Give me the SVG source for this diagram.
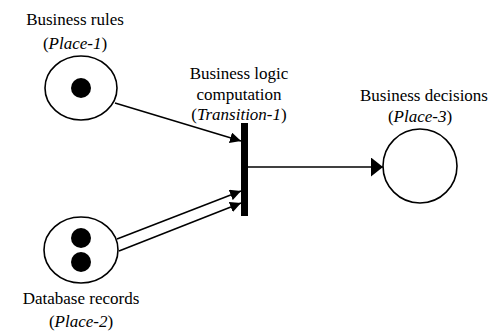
<svg xmlns="http://www.w3.org/2000/svg" width="493" height="333" viewBox="0 0 493 333">
<style>
text{font-family:'Liberation Serif','Times New Roman',serif;font-size:17px;fill:#000;text-anchor:middle}
.it{font-style:italic}
.place{fill:#fff;stroke:#000;stroke-width:1.6}
.tok{fill:#000}
.arc{stroke:#000;stroke-width:1.5;fill:none}
</style>
<defs>
<marker id="ah" markerUnits="userSpaceOnUse" markerWidth="12" markerHeight="11" refX="11" refY="5.5" orient="auto">
<path d="M0,0 L11,5.5 L0,11 z" fill="#000"/>
</marker>
<marker id="ahL" markerUnits="userSpaceOnUse" markerWidth="12" markerHeight="19" refX="12" refY="9.5" orient="auto">
<path d="M0,0 L12,9.5 L0,19 z" fill="#000"/>
</marker>
</defs>
<g id="connectors">
<line class="arc" x1="115" y1="103" x2="241" y2="141" marker-end="url(#ah)"/>
<line class="arc" x1="117" y1="239" x2="241" y2="191" marker-end="url(#ah)"/>
<line class="arc" x1="119" y1="251" x2="241" y2="203" marker-end="url(#ah)"/>
<line class="arc" x1="248" y1="167" x2="383" y2="167" marker-end="url(#ahL)"/>
</g>
<g id="place-1">
<ellipse class="place" cx="81" cy="88" rx="36" ry="32"/>
<circle class="tok" cx="81" cy="88" r="10"/>
<text x="75" y="25">Business rules</text>
<text x="75" y="49">(<tspan class="it">Place-1</tspan>)</text>
</g>
<g id="place-2">
<ellipse class="place" cx="81" cy="250" rx="37" ry="33"/>
<circle class="tok" cx="81" cy="238" r="10"/>
<circle class="tok" cx="81" cy="262" r="10"/>
<text x="81" y="304">Database records</text>
<text x="81" y="327">(<tspan class="it">Place-2</tspan>)</text>
</g>
<g id="transition-1">
<rect x="241" y="123" width="7" height="93" fill="#000"/>
<text x="239" y="79">Business logic</text>
<text x="239" y="100">computation</text>
<text x="239" y="120">(<tspan class="it">Transition-1</tspan>)</text>
</g>
<g id="place-3">
<circle class="place" cx="420" cy="166" r="37"/>
<text x="424" y="101">Business decisions</text>
<text x="420" y="122">(<tspan class="it">Place-3</tspan>)</text>
</g>
</svg>
